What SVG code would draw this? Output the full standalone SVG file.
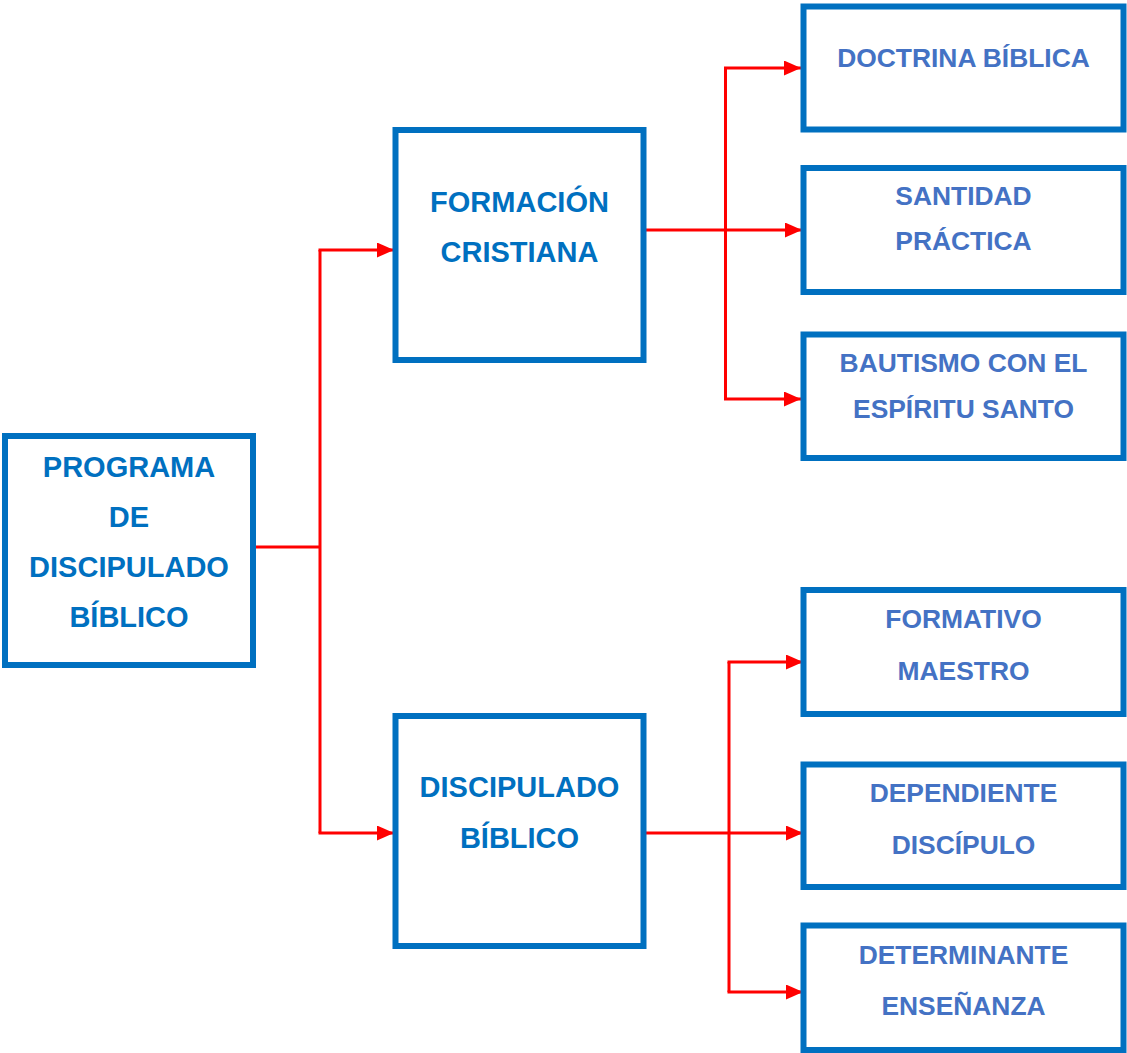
<svg xmlns="http://www.w3.org/2000/svg" width="1127" height="1053" viewBox="0 0 1127 1053">
<style>
.box{fill:#fff;stroke:#0070C0;stroke-width:6}
.t1{font-family:"Liberation Sans",Arial,sans-serif;font-weight:bold;font-size:29px;fill:#0070C0;text-anchor:middle}
.t2{font-family:"Liberation Sans",Arial,sans-serif;font-weight:bold;font-size:26.4px;fill:#4472C4;text-anchor:middle}
.c{fill:none;stroke:#FF0000;stroke-width:3}
.a{marker-end:url(#arr)}
</style>
<defs>
<marker id="arr" markerUnits="userSpaceOnUse" markerWidth="17" markerHeight="15" refX="17" refY="7.5" orient="auto">
<path d="M0,0 L17,7.5 L0,15 z" fill="#FF0000"/>
</marker>
</defs>
<rect width="1127" height="1053" fill="#fff"/>
<g id="connectors">
<path class="c" d="M256,547 H320"/>
<path class="c" d="M320,250 V833"/>
<path class="c a" d="M318.5,250 H394"/>
<path class="c a" d="M318.5,833 H394"/>
<path class="c a" d="M646,230 H802"/>
<path class="c" d="M725.5,68 V399"/>
<path class="c a" d="M724,68 H801"/>
<path class="c a" d="M724,399 H801"/>
<path class="c a" d="M646,833 H803"/>
<path class="c" d="M729,662 V992"/>
<path class="c a" d="M727.5,662 H803"/>
<path class="c a" d="M727.5,992 H803"/>
</g>
<g id="programa">
<rect class="box" x="5" y="436" width="248" height="229"/>
<text class="t1" x="129" y="477">PROGRAMA</text>
<text class="t1" x="129" y="527">DE</text>
<text class="t1" x="129" y="577">DISCIPULADO</text>
<text class="t1" x="129" y="627">BÍBLICO</text>
</g>
<g id="formacion">
<rect class="box" x="395.5" y="130" width="248" height="230"/>
<text class="t1" x="519.5" y="212">FORMACIÓN</text>
<text class="t1" x="519.5" y="262">CRISTIANA</text>
</g>
<g id="discipulado">
<rect class="box" x="395.5" y="716" width="248" height="230"/>
<text class="t1" x="519.5" y="797">DISCIPULADO</text>
<text class="t1" x="519.5" y="848">BÍBLICO</text>
</g>
<g id="doctrina">
<rect class="box" x="803.5" y="6.5" width="320" height="123"/>
<text class="t2" x="963.5" y="67">DOCTRINA BÍBLICA</text>
</g>
<g id="santidad">
<rect class="box" x="803.5" y="168" width="320" height="124"/>
<text class="t2" x="963.5" y="205">SANTIDAD</text>
<text class="t2" x="963.5" y="250">PRÁCTICA</text>
</g>
<g id="bautismo">
<rect class="box" x="803.5" y="334.5" width="320" height="123.5"/>
<text class="t2" x="963.5" y="372">BAUTISMO CON EL</text>
<text class="t2" x="963.5" y="418">ESPÍRITU SANTO</text>
</g>
<g id="formativo">
<rect class="box" x="803.5" y="590" width="320" height="124"/>
<text class="t2" x="963.5" y="628">FORMATIVO</text>
<text class="t2" x="963.5" y="680">MAESTRO</text>
</g>
<g id="dependiente">
<rect class="box" x="803.5" y="764.5" width="320" height="122.5"/>
<text class="t2" x="963.5" y="802">DEPENDIENTE</text>
<text class="t2" x="963.5" y="854">DISCÍPULO</text>
</g>
<g id="determinante">
<rect class="box" x="803.5" y="925.5" width="320" height="124.5"/>
<text class="t2" x="963.5" y="964">DETERMINANTE</text>
<text class="t2" x="963.5" y="1015">ENSEÑANZA</text>
</g>
</svg>
